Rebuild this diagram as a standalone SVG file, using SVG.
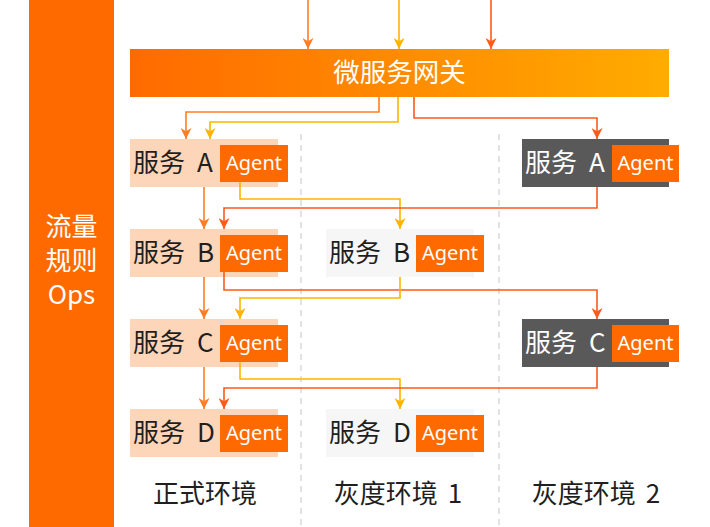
<svg xmlns="http://www.w3.org/2000/svg" width="710" height="527" viewBox="0 0 710 527">
<style>
.lbl{font-family:"Noto Sans CJK SC","Noto Sans",sans-serif;font-size:26px;fill:#1f1f1f}
.lblw{font-family:"Noto Sans CJK SC","Noto Sans",sans-serif;font-size:26px;fill:#ffffff}
.gwt{font-family:"Noto Sans CJK SC","Noto Sans",sans-serif;font-size:26.5px;fill:#ffffff;text-anchor:middle}
.agt{font-family:"Noto Sans","Open Sans",sans-serif;font-size:20px;fill:#ffffff;text-anchor:middle}
.env{font-family:"Noto Sans CJK SC","Noto Sans",sans-serif;font-size:26px;fill:#1f1f1f;text-anchor:middle}
.side{font-family:"Noto Sans CJK SC","Noto Sans",sans-serif;font-size:26px;fill:#ffffff;text-anchor:middle}
.prod{fill:#FDD5B8}
.gray1{fill:#F6F6F6}
.gray2{fill:#595959}
.agbox{fill:#FF6A00}
.dash{stroke:#D9D9D9;stroke-width:1.5;stroke-dasharray:6 5;fill:none}
.o{stroke:#FF7D24;stroke-width:1.6;fill:none;marker-end:url(#mo)}
.y{stroke:#FFB400;stroke-width:1.6;fill:none;marker-end:url(#my)}
.r{stroke:#FF5A1A;stroke-width:1.6;fill:none;marker-end:url(#mr)}
</style>
<defs>
<linearGradient id="gw" x1="0" y1="0" x2="1" y2="0">
<stop offset="0" stop-color="#FF6A00"/>
<stop offset="1" stop-color="#FFAC00"/>
</linearGradient>
<marker id="mo" viewBox="0 0 10 10" refX="10" refY="5" markerWidth="11" markerHeight="11" markerUnits="userSpaceOnUse" orient="auto"><path d="M0,0 L10,5 L0,10 L3,5 z" fill="#FF7D24"/></marker>
<marker id="my" viewBox="0 0 10 10" refX="10" refY="5" markerWidth="11" markerHeight="11" markerUnits="userSpaceOnUse" orient="auto"><path d="M0,0 L10,5 L0,10 L3,5 z" fill="#FFB400"/></marker>
<marker id="mr" viewBox="0 0 10 10" refX="10" refY="5" markerWidth="11" markerHeight="11" markerUnits="userSpaceOnUse" orient="auto"><path d="M0,0 L10,5 L0,10 L3,5 z" fill="#FF5A1A"/></marker>
</defs>
<rect width="710" height="527" fill="#ffffff"/>

<g id="dividers">
<line class="dash" x1="301" y1="134" x2="301" y2="527"/>
<line class="dash" x1="499" y1="134" x2="499" y2="527"/>
</g>

<g id="side-bar">
<rect x="29" y="0" width="85" height="527" fill="#FF6A00"/>
<text class="side" x="71.5" y="236">流量</text>
<text class="side" x="71.5" y="270">规则</text>
<text class="side" x="71.5" y="304">Ops</text>
</g>

<g id="gateway">
<rect x="130" y="49" width="539" height="48" fill="url(#gw)"/>
<text class="gwt" x="399.5" y="82">微服务网关</text>
</g>

<g id="prod-a">
<rect class="prod" x="130" y="139" width="148" height="48"/>
<text class="lbl" x="133" y="172">服务<tspan dx="12">A</tspan></text>
<rect class="agbox" x="220" y="145" width="68" height="37"/>
<text class="agt" x="254" y="170">Agent</text>
</g>
<g id="prod-b">
<rect class="prod" x="130" y="229" width="148" height="48"/>
<text class="lbl" x="133" y="262">服务<tspan dx="12">B</tspan></text>
<rect class="agbox" x="220" y="235" width="68" height="37"/>
<text class="agt" x="254" y="260">Agent</text>
</g>
<g id="prod-c">
<rect class="prod" x="130" y="319" width="148" height="48"/>
<text class="lbl" x="133" y="352">服务<tspan dx="12">C</tspan></text>
<rect class="agbox" x="220" y="325" width="68" height="37"/>
<text class="agt" x="254" y="350">Agent</text>
</g>
<g id="prod-d">
<rect class="prod" x="130" y="409" width="148" height="48"/>
<text class="lbl" x="133" y="442">服务<tspan dx="12">D</tspan></text>
<rect class="agbox" x="220" y="415" width="68" height="37"/>
<text class="agt" x="254" y="440">Agent</text>
</g>

<g id="gray1-b">
<rect class="gray1" x="326" y="229" width="148" height="48"/>
<text class="lbl" x="329" y="262">服务<tspan dx="12">B</tspan></text>
<rect class="agbox" x="416" y="235" width="68" height="37"/>
<text class="agt" x="450" y="260">Agent</text>
</g>
<g id="gray1-d">
<rect class="gray1" x="326" y="409" width="148" height="48"/>
<text class="lbl" x="329" y="442">服务<tspan dx="12">D</tspan></text>
<rect class="agbox" x="416" y="415" width="68" height="37"/>
<text class="agt" x="450" y="440">Agent</text>
</g>

<g id="gray2-a">
<rect class="gray2" x="522" y="139" width="147" height="48"/>
<text class="lblw" x="525" y="172">服务<tspan dx="12">A</tspan></text>
<rect class="agbox" x="612" y="145" width="67" height="37"/>
<text class="agt" x="645.5" y="170">Agent</text>
</g>
<g id="gray2-c">
<rect class="gray2" x="522" y="319" width="147" height="48"/>
<text class="lblw" x="525" y="352">服务<tspan dx="12">C</tspan></text>
<rect class="agbox" x="612" y="325" width="67" height="37"/>
<text class="agt" x="645.5" y="350">Agent</text>
</g>

<g id="env-labels">
<text class="env" x="205" y="503">正式环境</text>
<text class="env" x="398" y="503">灰度环境<tspan dx="10">1</tspan></text>
<text class="env" x="596" y="503">灰度环境<tspan dx="10">2</tspan></text>
</g>

<g id="connectors">
<path class="o" d="M308,0 V49"/>
<path class="y" d="M399,0 V49"/>
<path class="r" d="M491,0 V49"/>

<path class="o" d="M379,97 V112 H186 V139"/>
<path class="y" d="M398,97 V122 H210 V139"/>
<path class="r" d="M414,97 V118 H597 V139"/>

<path class="o" d="M204,187 V229"/>
<path class="y" d="M240,182 V199 H400 V229"/>
<path class="r" d="M597,187 V208 H224 V229"/>

<path class="o" d="M204,277 V319"/>
<path class="r" d="M224,272 V290 H597 V319"/>
<path class="y" d="M400,277 V298 H240 V319"/>

<path class="o" d="M204,367 V409"/>
<path class="y" d="M240,362 V379 H400 V409"/>
<path class="r" d="M597,367 V388 H224 V409"/>
</g>
</svg>
